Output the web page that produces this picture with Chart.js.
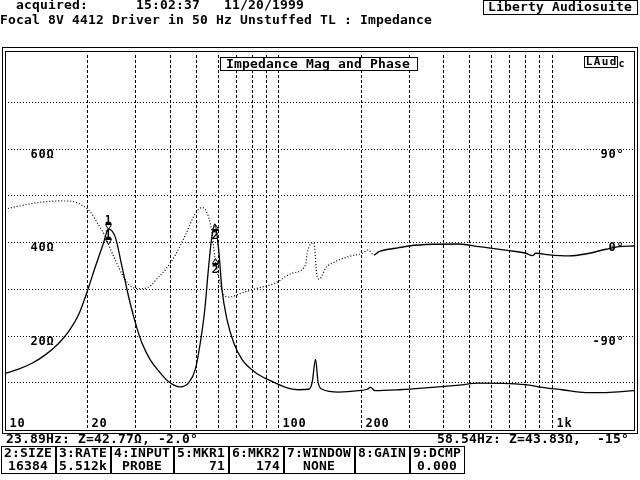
<!DOCTYPE html>
<html><head><meta charset="utf-8">
<script src="https://cdn.jsdelivr.net/npm/chart.js@4"></script>
<style>html,body{margin:0;padding:0;background:#fff;}canvas{display:block}</style>
</head><body>
<canvas id="c" width="640" height="480"></canvas>
<script>
// ---- data ----
const magFreqs = [10, 11.2, 12.5, 14.0, 15.7, 17.1, 18.6, 19.9, 21.4, 22.9, 23.89, 25.3, 26.8, 28.3, 30.0, 31.7, 34.0, 36.5, 39.7, 43.8, 47.0, 49.7, 51.8, 53.8, 55.3, 56.9, 58.54, 60.5, 62.2, 64.9, 68.7, 73.6, 82.4, 92.2, 109.2, 118.8, 129.2, 132.9, 136.8, 139.8, 144.6, 166.4, 197, 211.3, 217.5, 225.5, 276, 365, 458, 542, 698, 827, 922, 1092, 1333, 1579, 2000];
const magOhms  = [11.9, 12.8, 14.0, 15.8, 18.3, 20.9, 24.5, 29.1, 34.7, 39.7, 42.77, 41.1, 34.7, 28.4, 22.7, 18.4, 14.8, 12.4, 10.1, 9.0, 9.9, 12.8, 18.4, 25.5, 33.3, 40.4, 43.83, 38.3, 29.8, 23.4, 18.4, 14.9, 12.1, 10.5, 8.7, 8.4, 8.5, 9.9, 14.9, 9.9, 8.5, 7.9, 8.2, 8.5, 8.9, 8.2, 8.4, 8.9, 9.4, 9.8, 9.7, 9.4, 8.9, 8.4, 7.8, 7.8, 8.2];
const phaseFreqs = [10, 11.2, 13.25, 15.7, 17.5, 19.1, 20.5, 22.0, 23.3, 23.89, 25.3, 27.1, 29.1, 31.7, 34.5, 35.5, 38.6, 42.0, 45.7, 49.7, 52.5, 55.3, 57.2, 58.54, 60.8, 62.6, 65.8, 73.6, 82.4, 97.6, 112.3, 125.7, 127.4, 134.8, 138.6, 141.5, 148.8, 161.9, 181.1, 202.6, 213.1, 223.6, 233.3, 268.5, 300.4, 365.6, 458, 542, 698, 804, 850, 875, 978, 1158, 1333, 1579, 1766, 2000];
const phaseDeg   = [31.6, 34.5, 38, 39.5, 39.2, 35.4, 29, 16.3, 5.1, -2.0, -17.2, -33.2, -43.4, -45, -41, -37, -26.8, -12.4, 6.7, 27.5, 33.2, 25.8, 8.3, -15, -36.4, -49, -53, -49, -45, -39.5, -30, -22, -10.8, -0.6, -33.2, -35.7, -25.2, -18.8, -14, -10.8, -7.7, -12.4, -9.3, -6, -3.8, -2.2, -1.9, -4.5, -8.3, -10.8, -13.1, -10.8, -12.4, -13.4, -11.5, -7, -4.5, -3.8];
const xGridFreqs = [20, 30, 40, 50, 60, 70, 80, 90, 100, 200, 300, 400, 500, 600, 700, 800, 900, 1000];
const magGridOhms = [10, 20, 30, 40, 50, 60, 70];
const xTickValues = [10, 20, 100, 200, 1000];
const xTickLabels = ['10', '20', '100', '200', '1k'];
const magTickValues = [60, 40, 20];
const magTickLabels = ['60Ω', '40Ω', '20Ω'];
const phaseTickValues = [90, 0, -90];
const phaseTickLabels = ['90°', '0°', '-90°'];
const markerNames = ['1', '2'];
const markerFreqs = [23.89, 58.54];
const markerOhms = [42.77, 43.83];
const markerPhase = [-2.0, -15];
const buttonLabels = ['2:SIZE', '3:RATE', '4:INPUT', '5:MKR1', '6:MKR2', '7:WINDOW', '8:GAIN', '9:DCMP'];
const buttonValues = ['16384', '5.512k', 'PROBE', '71', '174', 'NONE', '', '0.000'];
const headerLine1 = '  acquired:      15:02:37   11/20/1999';
const headerLine2 = 'Focal 8V 4412 Driver in 50 Hz Unstuffed TL : Impedance';
const brandText = 'Liberty Audiosuite';
const plotTitle = 'Impedance Mag and Phase';
const readout1 = '23.89Hz: Z=42.77Ω, -2.0°';
const readout2 = '58.54Hz: Z=43.83Ω,  -15°';

const FONT = '"DejaVu Sans Mono", "Liberation Mono", monospace';
function mono(ctx, s, x, y, size, pitch) {
  pitch = pitch || 8;
  ctx.font = 'bold ' + size + 'px ' + FONT;
  ctx.textAlign = 'center';
  ctx.textBaseline = 'alphabetic';
  ctx.fillStyle = '#000';
  [...s].forEach((ch, i) => ctx.fillText(ch, x + i * pitch + pitch / 2, y));
}
function rect(ctx, x0, y0, x1, y1) {
  ctx.strokeRect(x0 + 0.5, y0 + 0.5, x1 - x0, y1 - y0);
}

const gridPlugin = {
  id: 'grid',
  beforeDatasetsDraw(chart) {
    const ctx = chart.ctx, a = chart.chartArea, sx = chart.scales.x, sy = chart.scales.y;
    ctx.save();
    ctx.strokeStyle = '#000';
    ctx.lineWidth = 1;
    ctx.setLineDash([3, 2]);
    xGridFreqs.forEach(f => {
      const px = Math.round(sx.getPixelForValue(f)) + 0.5;
      ctx.beginPath(); ctx.moveTo(px, a.top); ctx.lineTo(px, a.bottom); ctx.stroke();
    });
    ctx.setLineDash([1, 2]);
    magGridOhms.forEach(v => {
      const py = Math.round(sy.getPixelForValue(v)) + 0.5;
      ctx.beginPath(); ctx.moveTo(a.left, py); ctx.lineTo(a.right, py); ctx.stroke();
    });
    ctx.restore();
  }
};

const decorPlugin = {
  id: 'decor',
  afterDraw(chart) {
    const ctx = chart.ctx, sx = chart.scales.x, sy = chart.scales.y, sp = chart.scales.y1;
    ctx.save();
    ctx.strokeStyle = '#000';
    ctx.lineWidth = 1;
    ctx.setLineDash([]);
    // header
    mono(ctx, headerLine1, 0, 9, 13);
    mono(ctx, headerLine2, 0, 24, 13);
    rect(ctx, 483, 0, 637, 14);
    mono(ctx, brandText, 488, 11, 13);
    // frame (double)
    rect(ctx, 2, 47, 637, 433);
    rect(ctx, 5, 51, 634, 430);
    // plot title box
    ctx.fillStyle = '#fff';
    ctx.fillRect(220, 57, 197, 13);
    ctx.strokeStyle = '#000';
    rect(ctx, 220, 57, 417, 70);
    mono(ctx, plotTitle, 226, 68, 13);
    // logo
    ctx.fillStyle = '#fff';
    ctx.fillRect(584, 56, 33, 11);
    rect(ctx, 584, 56, 617, 67);
    mono(ctx, 'LAud', 585, 65, 11, 8);
    mono(ctx, 'c', 618, 67, 10, 7);
    // y tick labels
    magTickValues.forEach((v, i) => {
      const py = Math.round(sy.getPixelForValue(v));
      mono(ctx, magTickLabels[i], 30, py + 9, 12);
    });
    phaseTickValues.forEach((v, i) => {
      const py = Math.round(sp.getPixelForValue(v));
      const s = phaseTickLabels[i];
      mono(ctx, s, 624 - [...s].length * 8, py + 9, 12);
    });
    // x tick labels
    xTickValues.forEach((v, i) => {
      const px = Math.round(sx.getPixelForValue(v));
      mono(ctx, xTickLabels[i], px + 4, 427, 12);
    });
    // markers
    function tri(x, y, up) {
      ctx.beginPath();
      if (up) { ctx.moveTo(x, y); ctx.lineTo(x - 3, y + 5); ctx.lineTo(x + 3, y + 5); }
      else { ctx.moveTo(x, y); ctx.lineTo(x - 3, y - 5); ctx.lineTo(x + 3, y - 5); }
      ctx.closePath(); ctx.stroke();
    }
    markerFreqs.forEach((f, i) => {
      const px = Math.round(sx.getPixelForValue(f)) + 0.5;
      const ys = [sy.getPixelForValue(markerOhms[i]), sp.getPixelForValue(markerPhase[i])];
      ys.forEach(y => {
        y = Math.round(y) + 0.5;
        if (i === 0) {
          tri(px, y, false);
          ctx.beginPath(); ctx.moveTo(px - 3, y - 6); ctx.lineTo(px + 3, y - 6); ctx.stroke();
          mono(ctx, markerNames[i], px - 4.5, y - 7, 11, 8);
        } else {
          tri(px, y, true);
          ctx.beginPath(); ctx.moveTo(px - 3, y + 6); ctx.lineTo(px + 3, y + 6); ctx.stroke();
          mono(ctx, markerNames[i], px - 4.5, y + 14, 11, 8);
        }
      });
    });
    // readouts
    mono(ctx, readout1, 6, 443, 13);
    mono(ctx, readout2, 437, 443, 13);
    // buttons
    let bx = 1;
    buttonLabels.forEach((lab, i) => {
      const n = [...lab].length;
      const w = n * 8 + 6;
      rect(ctx, bx, 446, bx + w, 473);
      mono(ctx, lab, bx + 3, 457, 13);
      const v = buttonValues[i];
      const vn = [...v].length;
      let vx;
      if (v === '71' || v === '174') vx = bx + 3 + (n - vn) * 8;
      else vx = bx + 3 + (n - vn) * 4;
      mono(ctx, v, vx, 470, 13);
      bx += w + 1;
    });
    ctx.restore();
  }
};

new Chart(document.getElementById('c'), {
  type: 'scatter',
  data: {
    datasets: [
      {
        label: 'Impedance magnitude',
        data: magFreqs.map((f, i) => ({ x: f, y: magOhms[i] })),
        yAxisID: 'y',
        showLine: true,
        borderColor: '#000',
        borderWidth: 1.3,
        pointRadius: 0,
        cubicInterpolationMode: 'monotone'
      },
      {
        label: 'Impedance phase',
        data: phaseFreqs.map((f, i) => ({ x: f, y: phaseDeg[i] })),
        yAxisID: 'y1',
        showLine: true,
        borderColor: '#000',
        borderWidth: 1.3,
        pointRadius: 0,
        cubicInterpolationMode: 'monotone',
        segment: {
          borderDash: c => (c.p0.parsed.x < 220 ? [1, 2] : []),
          borderWidth: c => (c.p0.parsed.x < 220 ? 1.2 : 1.4)
        }
      }
    ]
  },
  options: {
    responsive: false,
    devicePixelRatio: 1,
    animation: false,
    layout: { padding: { left: 5, right: 6, top: 55, bottom: 51 } },
    plugins: { legend: { display: false }, tooltip: { enabled: false }, title: { display: false } },
    scales: {
      x: { type: 'logarithmic', min: 10, max: 2000, display: false },
      y: { type: 'linear', min: 0, max: 80, display: false },
      y1: { type: 'linear', min: -180, max: 180, display: false }
    }
  },
  plugins: [gridPlugin, decorPlugin]
});
</script>
</body></html>
